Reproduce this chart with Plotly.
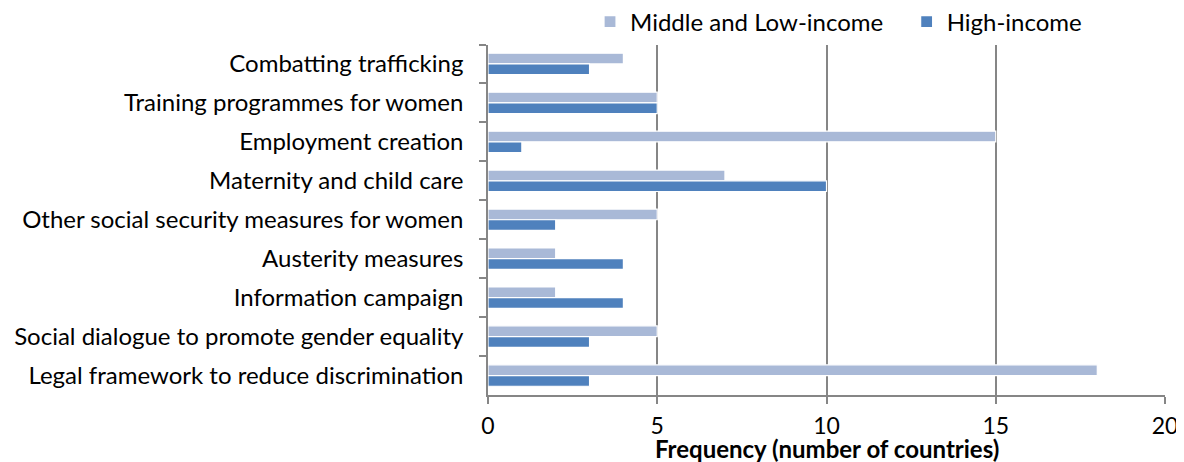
import plotly.graph_objects as go

categories = [
    "Combatting trafficking",
    "Training programmes for women",
    "Employment creation",
    "Maternity and child care",
    "Other social security measures for women",
    "Austerity measures",
    "Information campaign",
    "Social dialogue to promote gender equality",
    "Legal framework to reduce discrimination",
]
middle_low = [4, 5, 15, 7, 5, 2, 2, 5, 18]
high = [3, 5, 1, 10, 2, 4, 4, 3, 3]
x_ticks = [0, 5, 10, 15, 20]

FONT = "Lato"
fig = go.Figure()
fig.add_trace(go.Bar(y=categories, x=middle_low, orientation="h",
                     name="Middle and Low-income\u00a0\u00a0\u00a0",
                     marker=dict(color="#A9B9D7", line=dict(color="white", width=1.2))))
fig.add_trace(go.Bar(y=categories, x=high, orientation="h", name="High-income",
                     marker=dict(color="#4F81BD", line=dict(color="white", width=1.2))))

# page body has an 8px margin: compensate so the chart lands where the reference is
fig.update_layout(
    width=1176, height=454,
    margin=dict(l=480, r=19, t=32, b=67),
    plot_bgcolor="white", paper_bgcolor="white",
    font=dict(family=FONT, size=24, color="black"),
    barmode="group", bargap=0.45, bargroupgap=0,
    showlegend=True,
    legend=dict(orientation="h", xref="container", yref="container",
                x=(0.1507 * 677 + 480) / 1176, y=1 - 14 / 454, xanchor="left", yanchor="middle",
                font=dict(size=24), itemwidth=30, tracegroupgap=0),
    xaxis=dict(range=[0, 20], tickvals=x_ticks, showgrid=True, gridcolor="#868686", gridwidth=1.5,
               showline=True, linecolor="#868686", linewidth=1.5, ticks="outside", ticklen=7,
               tickcolor="#868686", tickwidth=1.5, zeroline=False, automargin=False,
               ticklabelstandoff=3, tickfont=dict(size=23)),
    yaxis=dict(autorange="reversed", showline=True, linecolor="#868686", linewidth=1.5,
               ticks="outside", ticklen=7, tickcolor="#868686", tickwidth=1.5, automargin=False,
               tickson="boundaries", showgrid=False, ticklabelstandoff=18, tickfont=dict(size=24)),
    annotations=[dict(text="<b>Frequency (number of countries)</b>", xref="paper", yref="paper",
                      x=0.5, y=-0.152, xanchor="center", yanchor="middle", showarrow=False,
                      font=dict(size=24))],
)
fig.write_html("out.html")
